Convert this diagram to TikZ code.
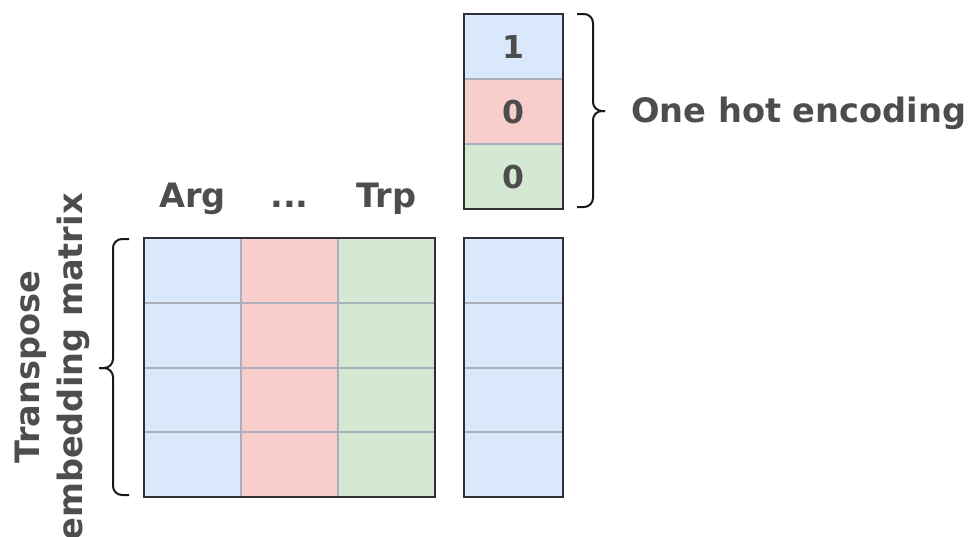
\documentclass[tikz,border=0pt]{standalone}
\usepackage{fontspec}
\setmainfont{DejaVu Sans}
\definecolor{cblue}{HTML}{DAE8FC}
\definecolor{cred}{HTML}{F8CECC}
\definecolor{cgreen}{HTML}{D5E8D4}
\definecolor{txt}{HTML}{4D4D4D}
\definecolor{gridc}{HTML}{A9B0BA}
\definecolor{framec}{HTML}{303030}
\begin{document}
\begin{tikzpicture}[x=1pt,y=-1pt,
  framebox/.style={draw=framec, line width=2.4pt},
  gridline/.style={draw=gridc, line width=1.4pt},
  lbl/.style={text=txt, font=\bfseries\fontsize{33.6}{43}\selectfont, inner sep=0pt},
  num/.style={text=txt, font=\bfseries\fontsize{31.5}{36}\selectfont, inner sep=0pt},
  bracepath/.style={draw=black!90, line width=2pt, rounded corners=9pt}]
\useasboundingbox (0,0) rectangle (973,536);
% embedding matrix
\fill[cblue] (144,238) rectangle (241,497);
\fill[cred] (241,238) rectangle (338,497);
\fill[cgreen] (338,238) rectangle (435,497);
\foreach \x in {241,338} \draw[gridline] (\x,238) -- (\x,497);
\foreach \y in {303,368,432} \draw[gridline] (144,\y) -- (435,\y);
\draw[framebox] (144,238) rectangle (435,497);
% result column
\fill[cblue] (464,238) rectangle (563,497);
\foreach \y in {303,368,432} \draw[gridline] (464,\y) -- (563,\y);
\draw[framebox] (464,238) rectangle (563,497);
% one hot vector
\fill[cblue] (464,14) rectangle (563,79);
\fill[cred] (464,79) rectangle (563,144);
\fill[cgreen] (464,144) rectangle (563,209);
\foreach \y in {79,144} \draw[gridline] (464,\y) -- (563,\y);
\draw[framebox] (464,14) rectangle (563,209);
\node[num] (n1) at (513.5,47) {1};
\node[num] (n2) at (513.5,112) {0};
\node[num] (n3) at (513.5,177) {0};
% column labels
\node[lbl, anchor=base] (arg) at (192.5,207) {Arg};
\node[lbl, anchor=base] (dots) at (289.5,207) {...};
\node[lbl, anchor=base] (trp) at (386.5,207) {Trp};
% braces
\draw[bracepath] (577,14) -- (593,14) -- (593,111) -- (605,111);
\draw[bracepath] (577,207) -- (593,207) -- (593,111) -- (605,111);
\draw[bracepath] (129,239) -- (113,239) -- (113,368) -- (99,368);
\draw[bracepath] (129,495) -- (113,495) -- (113,368) -- (99,368);
\node[lbl, anchor=base west] (ohe) at (631,122) {One hot encoding};
\node[lbl, rotate=90, align=center] (tem) at (52,367) {Transpose\\embedding matrix};
\end{tikzpicture}
\end{document}
